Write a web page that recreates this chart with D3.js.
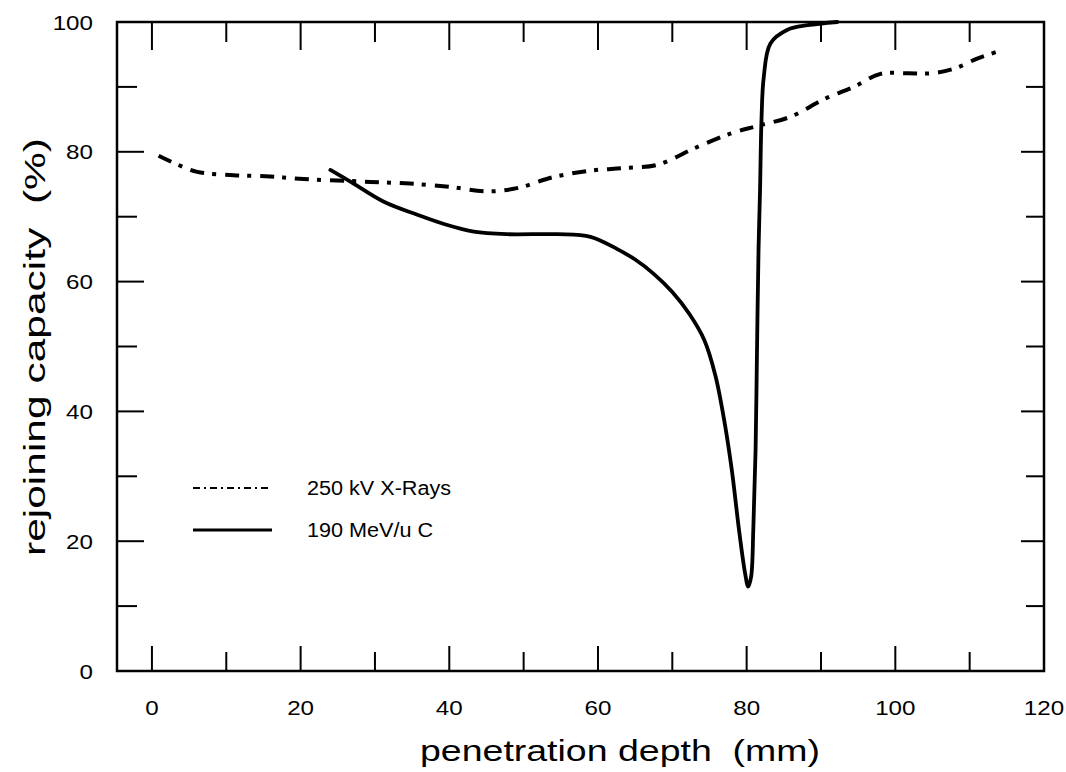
<!DOCTYPE html>
<html><head><meta charset="utf-8">
<script src="https://cdn.jsdelivr.net/npm/d3@7"></script>
<style>body{margin:0;background:#fff}svg{display:block}text{font-family:"Liberation Sans",Arial,sans-serif;fill:#000}</style>
</head><body><svg id="c" width="1066" height="772"></svg>
<script>
// depth (mm), rejoining capacity (%)
const xrayDepth = [0.9,3.5,6.1,11,15.9,20.4,26.7,30.7,34.7,40,45.1,49.1,54,59,63.5,68,72.9,77.8,81.5,85.9,90.4,94.4,98,101.6,104.8,107.9,111.1,114.2];
const xrayValue = [79.4,78,76.9,76.4,76.2,75.8,75.5,75.3,75.1,74.6,73.9,74.4,76.1,77.1,77.5,78.0,80.5,82.8,84.0,85.4,88.1,90.0,92.0,92.1,92.1,92.8,94.4,95.6];
const carbonDepth = [24.0,26.7,31.2,35.7,39.5,43.3,47.8,54.5,59.0,62.6,65.0,67.5,70.0,72.3,74.3,75.8,77.0,78.0,79.0,79.8,80.2,80.6,80.9,81.2,81.4,81.6,81.8,82.0,82.3,83.2,85.5,88.2,92.2];
const carbonValue = [77.2,75.4,72.3,70.3,68.8,67.7,67.3,67.3,66.9,65.0,63.4,61.2,58.4,55.0,51.0,45.5,38.5,31.0,21.5,15,13.0,14.5,22,34,50,65,74,85,91.5,96.7,98.8,99.5,100];
const xTicks = [0,20,40,60,80,100,120];
const xMinor = [10,30,50,70,90,110];
const yTicks = [0,20,40,60,80,100];
const yMinor = [10,30,50,70,90];
const legendLabels = ["250 kV X-Rays","190 MeV/u C"];
const xTitle = "penetration depth\u00a0\u00a0(mm)";
const yTitle = "rejoining capacity\u00a0\u00a0(%)";

const L=117, R=1044, T=22, B=671;
const svg = d3.select("#c");
const x = d3.scaleLinear().domain([-4.7,120]).range([L,R]);
const y = d3.scaleLinear().domain([0,100]).range([B,T]);
function stretch(sel,f){ sel.each(function(){ const w=this.getComputedTextLength();
  d3.select(this).attr("textLength",w*f).attr("lengthAdjust","spacingAndGlyphs"); }); }

// frame
svg.append("rect").attr("x",L).attr("y",T).attr("width",R-L).attr("height",B-T)
  .attr("fill","none").attr("stroke","#000").attr("stroke-width",2.5);

const tk = svg.append("g").attr("stroke","#000").attr("stroke-width",2);
xTicks.forEach(v=>{ if(x(v)<R-2){
  tk.append("line").attr("x1",x(v)).attr("x2",x(v)).attr("y1",B).attr("y2",B-25);
  tk.append("line").attr("x1",x(v)).attr("x2",x(v)).attr("y1",T).attr("y2",T+28);}});
xMinor.forEach(v=>{
  tk.append("line").attr("x1",x(v)).attr("x2",x(v)).attr("y1",B).attr("y2",B-19);
  tk.append("line").attr("x1",x(v)).attr("x2",x(v)).attr("y1",T).attr("y2",T+20);});
yTicks.forEach(v=>{ if(y(v)>T+2 && y(v)<B-2){
  tk.append("line").attr("x1",L).attr("x2",L+27).attr("y1",y(v)).attr("y2",y(v));
  tk.append("line").attr("x1",R).attr("x2",R-23).attr("y1",y(v)).attr("y2",y(v));}});
yMinor.forEach(v=>{
  tk.append("line").attr("x1",L).attr("x2",L+20).attr("y1",y(v)).attr("y2",y(v));
  tk.append("line").attr("x1",R).attr("x2",R-18).attr("y1",y(v)).attr("y2",y(v));});

// tick labels
svg.append("g").selectAll("text").data(xTicks).join("text")
  .attr("x",d=>x(d)).attr("y",715).attr("text-anchor","middle")
  .attr("font-size",21).text(d=>d).call(stretch,1.15);
svg.append("g").selectAll("text").data(yTicks).join("text")
  .attr("x",93).attr("y",d=>y(d)+7.5).attr("text-anchor","end")
  .attr("font-size",21).text(d=>d).call(stretch,1.15);

// titles
svg.append("text").attr("x",420).attr("y",761).attr("font-size",29)
  .attr("textLength",400).attr("lengthAdjust","spacingAndGlyphs").text(xTitle);
svg.append("text").attr("transform","translate(45,556) rotate(-90)").attr("font-size",29)
  .attr("textLength",418).attr("lengthAdjust","spacingAndGlyphs").text(yTitle);

// curves
const line = d3.line().x(d=>x(d[0])).y(d=>y(d[1])).curve(d3.curveCatmullRom.alpha(0.5));
const xray = xrayDepth.map((d,i)=>[d,xrayValue[i]]);
const carbon = carbonDepth.map((d,i)=>[d,carbonValue[i]]);
svg.append("path").attr("d",line(xray)).attr("fill","none").attr("stroke","#000")
  .attr("stroke-width",4).attr("stroke-dasharray","14,8,4,9");
svg.append("path").attr("d",line(carbon)).attr("fill","none").attr("stroke","#000")
  .attr("stroke-width",3.8).attr("stroke-linejoin","round").attr("stroke-linecap","round");

// legend
const lg = svg.append("g");
lg.append("line").attr("x1",193).attr("x2",272).attr("y1",488).attr("y2",488)
  .attr("stroke","#000").attr("stroke-width",2).attr("stroke-dasharray","7,4,2,4");
lg.append("line").attr("x1",193).attr("x2",272).attr("y1",530).attr("y2",530)
  .attr("stroke","#000").attr("stroke-width",3);
lg.selectAll("text").data(legendLabels).join("text")
  .attr("x",307).attr("y",(d,i)=>488+7+i*42).attr("font-size",20).text(d=>d).call(stretch,1.08);
</script></body></html>
